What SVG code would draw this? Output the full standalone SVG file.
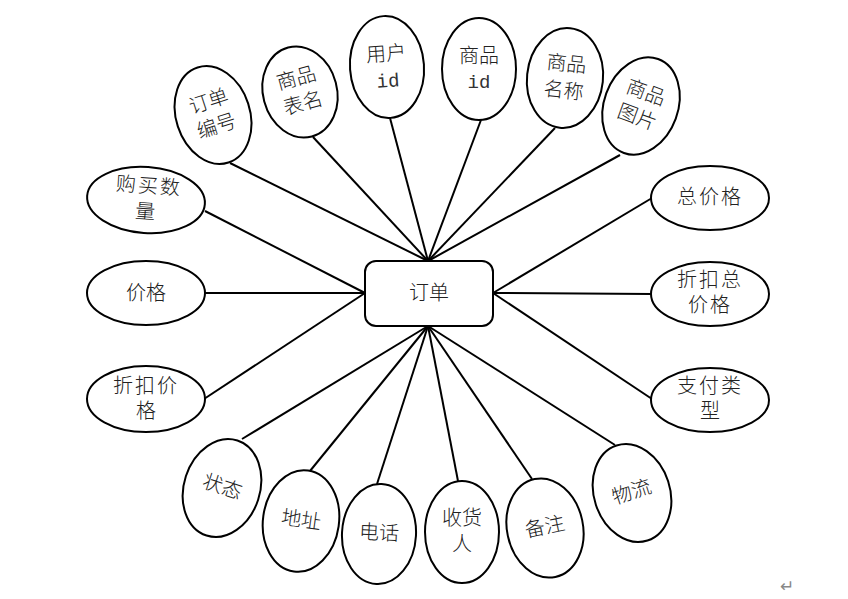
<svg xmlns="http://www.w3.org/2000/svg" width="848" height="599" viewBox="0 0 848 599">
<style>
.n ellipse,.n rect{fill:#fff;stroke:#000;stroke-width:2}
.n text{font-family:"Liberation Mono","Noto Sans CJK SC",monospace;font-size:20px;font-weight:300;fill:#222;text-anchor:middle;dominant-baseline:central}
.n text.id{font-weight:400;font-size:19px;fill:#333}
#edges line{stroke:#000;stroke-width:2}
</style>
<rect width="848" height="599" fill="#fff"/>
<g id="edges">
<line x1="230" y1="163" x2="428" y2="261"/>
<line x1="313" y1="137" x2="428" y2="261"/>
<line x1="390" y1="118" x2="428" y2="261"/>
<line x1="481" y1="120" x2="428" y2="261"/>
<line x1="555" y1="128" x2="428" y2="261"/>
<line x1="620" y1="155" x2="428" y2="261"/>
<line x1="652" y1="198" x2="493" y2="293"/>
<line x1="652" y1="294" x2="493" y2="293"/>
<line x1="652" y1="399" x2="493" y2="293"/>
<line x1="615" y1="445" x2="428" y2="326"/>
<line x1="532" y1="479" x2="428" y2="326"/>
<line x1="458" y1="481" x2="428" y2="326"/>
<line x1="377" y1="484" x2="428" y2="326"/>
<line x1="310" y1="471" x2="428" y2="326"/>
<line x1="242" y1="439" x2="428" y2="326"/>
<line x1="204" y1="399" x2="365" y2="293"/>
<line x1="204" y1="293" x2="365" y2="293"/>
<line x1="205" y1="211" x2="365" y2="293"/>
</g>
<g id="order" class="n"><rect x="365" y="261" width="128" height="65" rx="11"/><text x="429" y="294">订单</text></g>
<g id="orderNo" class="n" transform="rotate(-18 213 115)"><ellipse cx="213" cy="115" rx="37" ry="50"/><text x="213" y="102">订单</text><text x="213" y="128">编号</text></g>
<g id="tableName" class="n" transform="rotate(-15 300 92)"><ellipse cx="300" cy="92" rx="37" ry="46"/><text x="300" y="79">商品</text><text x="300" y="105">表名</text></g>
<g id="userId" class="n" transform="rotate(-4 387 67)"><ellipse cx="387" cy="67" rx="37" ry="51"/><text x="387" y="55">用户</text><text class="id" x="387" y="82">id</text></g>
<g id="goodsId" class="n"><ellipse cx="479" cy="69" rx="37" ry="51"/><text x="479" y="57">商品</text><text class="id" x="479" y="83">id</text></g>
<g id="goodsName" class="n" transform="rotate(6 565 78)"><ellipse cx="565" cy="78" rx="38" ry="50"/><text x="565" y="65">商品</text><text x="565" y="92">名称</text></g>
<g id="goodsPic" class="n" transform="rotate(20 641 106)"><ellipse cx="641" cy="106" rx="37" ry="50"/><text x="641" y="93">商品</text><text x="641" y="119">图片</text></g>
<g id="total" class="n"><ellipse cx="710" cy="198" rx="59" ry="32"/><text x="710" y="198" letter-spacing="2">总价格</text></g>
<g id="discountTotal" class="n"><ellipse cx="710" cy="294" rx="59" ry="32"/><text x="710" y="281" letter-spacing="2">折扣总</text><text x="710" y="306" letter-spacing="2">价格</text></g>
<g id="payType" class="n"><ellipse cx="710" cy="400" rx="59" ry="32"/><text x="710" y="387" letter-spacing="2">支付类</text><text x="710" y="412">型</text></g>
<g id="logistics" class="n" transform="rotate(-18 632 493)"><ellipse cx="632" cy="493" rx="38" ry="50"/><text x="632" y="493">物流</text></g>
<g id="remark" class="n" transform="rotate(-12 545 528)"><ellipse cx="545" cy="528" rx="38" ry="50"/><text x="545" y="528">备注</text></g>
<g id="receiver" class="n"><ellipse cx="462" cy="532" rx="37" ry="51"/><text x="462" y="519">收货</text><text x="462" y="545">人</text></g>
<g id="phone" class="n" transform="rotate(3 379 534)"><ellipse cx="379" cy="534" rx="37" ry="50"/><text x="379" y="534">电话</text></g>
<g id="address" class="n" transform="rotate(8 301 521)"><ellipse cx="301" cy="521" rx="38" ry="51"/><text x="301" y="521">地址</text></g>
<g id="status" class="n" transform="rotate(18 222 488)"><ellipse cx="222" cy="488" rx="38" ry="50"/><text x="222" y="488">状态</text></g>
<g id="discountPrice" class="n"><ellipse cx="146" cy="399" rx="59" ry="33"/><text x="146" y="387" letter-spacing="2">折扣价</text><text x="146" y="412">格</text></g>
<g id="price" class="n"><ellipse cx="146" cy="293" rx="59" ry="32"/><text x="146" y="294">价格</text></g>
<g id="qty" class="n" transform="rotate(4 146 200)"><ellipse cx="146" cy="200" rx="59" ry="33"/><text x="148" y="187" letter-spacing="2">购买数</text><text x="146" y="213">量</text></g>
<text x="787" y="592" font-family="DejaVu Sans,sans-serif" font-size="17" fill="#888" text-anchor="middle">↵</text>
</svg>
